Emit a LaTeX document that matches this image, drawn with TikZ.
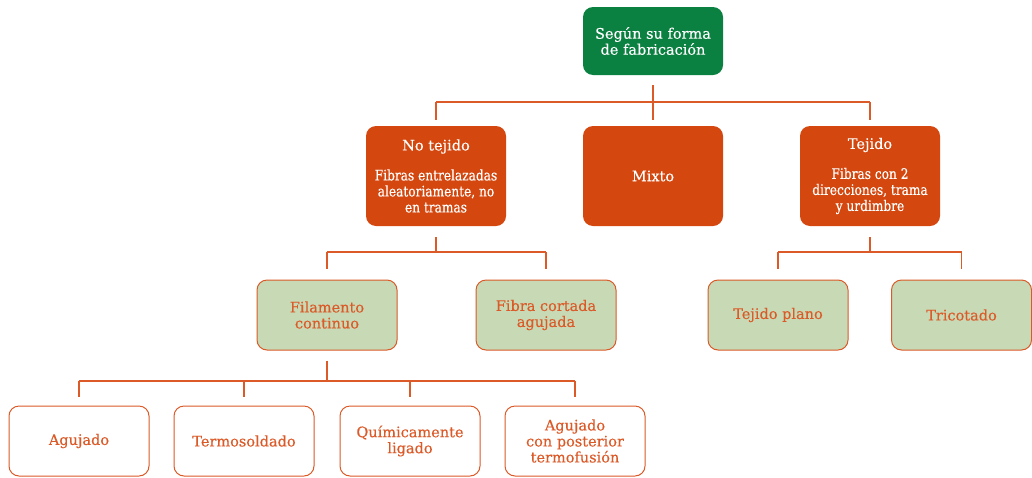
\documentclass[tikz,border=0pt]{standalone}
\usepackage{fontspec}
\setmainfont[FakeBold=0.25]{DejaVu Serif}
\newfontfamily\descfont[FakeStretch=0.84,FakeBold=0.25]{DejaVu Serif}
\definecolor{dgreen}{HTML}{0B8141}
\definecolor{dorange}{HTML}{D4480F}
\definecolor{lgreen}{HTML}{C7D9B5}
\definecolor{lorange}{HTML}{DB5A28}
\begin{document}
\begin{tikzpicture}[x=1pt,y=-1pt,
  box/.style={rounded corners=10pt, minimum width=140pt, align=center, inner sep=2pt,
    font=\fontsize{14.5}{16}\selectfont},
  topbox/.style={box, fill=dgreen, text=white, minimum height=68pt},
  midbox/.style={box, fill=dorange, text=white, minimum height=100pt},
  leafbox/.style={box, fill=lgreen, draw=lorange, line width=1pt, text=lorange, minimum height=70pt},
  endbox/.style={box, fill=white, draw=lorange, line width=1pt, text=lorange, minimum height=70pt},
  conn/.style={draw=lorange, line width=1.2pt}]
\useasboundingbox (0,0) rectangle (1032,477);
\node[topbox] (top) at (653,41) {Según su forma\\de fabricación};
\node[midbox] (nt) at (436,176) {No tejido\\[14pt]\descfont Fibras entrelazadas\\\descfont aleatoriamente, no\\\descfont en tramas};
\node[midbox] (mx) at (653,176) {Mixto};
\node[midbox] (tj) at (870,176) {Tejido\\[14pt]\descfont Fibras con 2\\\descfont direcciones, trama\\\descfont y urdimbre};
\node[leafbox] (fc) at (327,315) {Filamento\\continuo};
\node[leafbox] (fa) at (546,315) {Fibra cortada\\agujada};
\node[leafbox] (tp) at (778,315) {Tejido plano};
\node[leafbox] (tr) at (961.5,315) {Tricotado};
\node[endbox] (ag) at (79,441) {Agujado};
\node[endbox] (ts) at (244,441) {Termosoldado};
\node[endbox] (ql) at (410,441) {Químicamente\\ligado};
\node[endbox] (at) at (575,441) {Agujado\\con posterior\\termofusión};
\coordinate (b1) at (653,102);
\coordinate (b2) at (436,252);
\coordinate (b3) at (327,381);
% level 1
\draw[conn] ([yshift=-10pt]top.south) -- (top.south|-b1);
\draw[conn] (nt.north|-b1) -- (tj.north|-b1);
\foreach \n in {nt,mx,tj} \draw[conn] (\n.north|-b1) -- ([yshift=6pt]\n.north);
% level 2 left
\draw[conn] ([yshift=-11pt]nt.south) -- (nt.south|-b2);
\draw[conn] (fc.north|-b2) -- (fa.north|-b2);
\foreach \n in {fc,fa} \draw[conn] (\n.north|-b2) -- ([yshift=11pt]\n.north);
% level 2 right
\draw[conn] ([yshift=-11pt]tj.south) -- (tj.south|-b2);
\draw[conn] (tp.north|-b2) -- (tr.north|-b2);
\foreach \n in {tp,tr} \draw[conn] (\n.north|-b2) -- ([yshift=11pt]\n.north);
% level 3
\draw[conn] ([yshift=-10pt]fc.south) -- (fc.south|-b3);
\draw[conn] (ag.north|-b3) -- (at.north|-b3);
\foreach \n in {ag,ts,ql,at} \draw[conn] (\n.north|-b3) -- ([yshift=9pt]\n.north);
\end{tikzpicture}
\end{document}
